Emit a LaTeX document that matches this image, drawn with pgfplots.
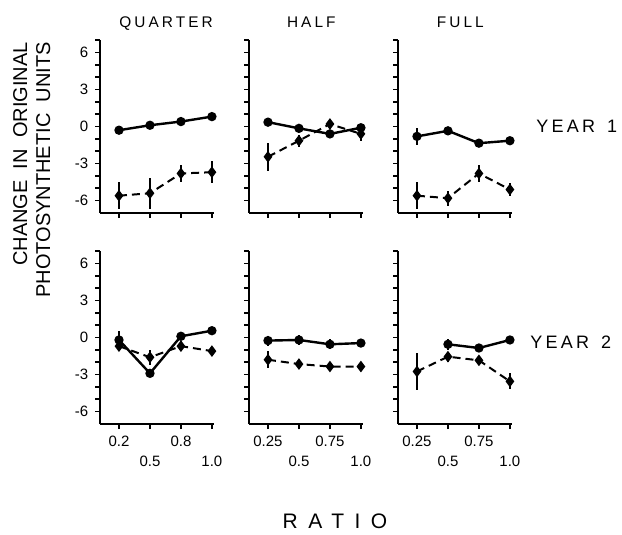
\documentclass[border=0pt]{standalone}
\usepackage{fontspec}
\setmainfont{Liberation Sans}
\newfontfamily\titlefont[LetterSpace=20]{Liberation Sans}
\newfontfamily\yearfont[LetterSpace=18]{Liberation Sans}
\newfontfamily\ratiofont[LetterSpace=50]{Liberation Sans}
\usepackage{pgfplots}
\pgfplotsset{compat=1.18}

\pgfplotsset{
  panel/.style={
    scale only axis, width=57pt, height=86.5pt, anchor=south west,
    xmin=0.1, xmax=1.02, ymin=-7, ymax=7,
    axis lines*=left, axis line style={line width=1pt, -},
    clip=false,
    ytick={-6,-3,0,3,6}, minor ytick={-5,-4,-2,-1,1,2,4,5,7},
    yticklabels={},
    xtick={0.25,0.75}, xticklabels={},
    extra x ticks={0.5,1.0}, extra x tick labels={},
    extra x tick style={tick label style={yshift=-10pt}},
    tick align=outside, major tick length=2.5pt, minor tick length=2.5pt,
    every tick/.style={black, line width=0.8pt},
    tick label style={font=\fontsize{7.5}{8}\selectfont},
  },
  solidser/.style={black, line width=1.2pt, mark=*, mark size=1.7pt,
    error bars/.cd, y dir=both, y explicit, error mark=none,
    error bar style={line width=0.8pt, solid}},
  dashser/.style={black, line width=1pt, dash pattern=on 4pt off 2.5pt,
    mark=diamond*, mark size=2.1pt, mark options={solid},
    error bars/.cd, y dir=both, y explicit, error mark=none,
    error bar style={line width=0.8pt, solid}},
}

% x y err
\pgfplotstableread[row sep=\\]{x y e\\ 0.25 -0.3 0\\ 0.5 0.1 0\\ 0.75 0.4 0\\ 1.0 0.8 0\\}\qsa
\pgfplotstableread[row sep=\\]{x y e\\ 0.25 -5.6 1.1\\ 0.5 -5.4 1.25\\ 0.75 -3.8 0.7\\ 1.0 -3.7 0.9\\}\qda
\pgfplotstableread[row sep=\\]{x y e\\ 0.25 0.35 0\\ 0.5 -0.15 0\\ 0.75 -0.6 0\\ 1.0 -0.1 0\\}\hsa
\pgfplotstableread[row sep=\\]{x y e\\ 0.25 -2.45 1.15\\ 0.5 -1.15 0.5\\ 0.75 0.2 0.2\\ 1.0 -0.6 0.55\\}\hda
\pgfplotstableread[row sep=\\]{x y e\\ 0.25 -0.8 0.7\\ 0.5 -0.35 0\\ 0.75 -1.35 0.3\\ 1.0 -1.15 0\\}\fsa
\pgfplotstableread[row sep=\\]{x y e\\ 0.25 -5.6 1.1\\ 0.5 -5.8 0.6\\ 0.75 -3.8 0.7\\ 1.0 -5.1 0.5\\}\fda
\pgfplotstableread[row sep=\\]{x y e\\ 0.25 -0.2 0.7\\ 0.5 -2.9 0\\ 0.75 0.1 0.3\\ 1.0 0.55 0\\}\qsb
\pgfplotstableread[row sep=\\]{x y e\\ 0.25 -0.7 0.4\\ 0.5 -1.6 0.6\\ 0.75 -0.7 0.4\\ 1.0 -1.1 0.35\\}\qdb
\pgfplotstableread[row sep=\\]{x y e\\ 0.25 -0.25 0.4\\ 0.5 -0.2 0.4\\ 0.75 -0.55 0.4\\ 1.0 -0.45 0\\}\hsb
\pgfplotstableread[row sep=\\]{x y e\\ 0.25 -1.8 0.7\\ 0.5 -2.15 0.4\\ 0.75 -2.35 0.4\\ 1.0 -2.35 0.3\\}\hdb
\pgfplotstableread[row sep=\\]{x y e\\ 0.5 -0.55 0.45\\ 0.75 -0.85 0\\ 1.0 -0.2 0\\}\fsb
\pgfplotstableread[row sep=\\]{x y e\\ 0.25 -2.75 1.5\\ 0.5 -1.55 0.4\\ 0.75 -1.85 0.35\\ 1.0 -3.55 0.65\\}\fdb

\begin{document}
\begin{tikzpicture}
\useasboundingbox (0,0) rectangle (311pt,-267.5pt);

% year 1
\begin{axis}[panel, at={(50.2pt,-106.5pt)}, yticklabels={-6,-3,0,3,6}]
\addplot[solidser] table[y error=e] {\qsa};
\addplot[dashser] table[y error=e] {\qda};
\node[anchor=base, font=\titlefont\fontsize{7.7}{8}\selectfont] at ([yshift=6.25pt]axis cs:0.63,7) {QUARTER};
\end{axis}
\begin{axis}[panel, at={(124.7pt,-106.5pt)}]
\addplot[solidser] table[y error=e] {\hsa};
\addplot[dashser] table[y error=e] {\hda};
\node[anchor=base, font=\titlefont\fontsize{7.7}{8}\selectfont] at ([yshift=6.25pt]axis cs:0.6,7) {HALF};
\end{axis}
\begin{axis}[panel, at={(199.2pt,-106.5pt)}]
\addplot[solidser] table[y error=e] {\fsa};
\addplot[dashser] table[y error=e] {\fda};
\node[anchor=base, font=\titlefont\fontsize{7.7}{8}\selectfont] at ([yshift=6.25pt]axis cs:0.6,7) {FULL};
\end{axis}

% year 2
\begin{axis}[panel, at={(50.2pt,-212pt)}, yticklabels={-6,-3,0,3,6},
  xticklabels={0.2,0.8}, extra x tick labels={0.5,1.0}]
\addplot[solidser] table[y error=e] {\qsb};
\addplot[dashser] table[y error=e] {\qdb};
\end{axis}
\begin{axis}[panel, at={(124.7pt,-212pt)},
  xticklabels={0.25,0.75}, extra x tick labels={0.5,1.0}]
\addplot[solidser] table[y error=e] {\hsb};
\addplot[dashser] table[y error=e] {\hdb};
\end{axis}
\begin{axis}[panel, at={(199.2pt,-212pt)},
  xticklabels={0.25,0.75}, extra x tick labels={0.5,1.0}]
\addplot[solidser] table[y error=e] {\fsb};
\addplot[dashser] table[y error=e] {\fdb};
\end{axis}

% labels
\node[rotate=90, anchor=base east, inner sep=0pt, font=\fontsize{10}{12}\selectfont] at (13.5pt,-21pt) {CHANGE\ \ IN\ \ ORIGINAL};
\node[rotate=90, anchor=base east, inner sep=0pt, font=\fontsize{10}{12}\selectfont] at (25pt,-21pt) {PHOTOSYNTHETIC\ \ UNITS};
\node[anchor=base west, inner sep=0pt, font=\yearfont\fontsize{9}{10}\selectfont] at (268pt,-66.5pt) {YEAR\hspace{6pt}1};
\node[anchor=base west, inner sep=0pt, font=\yearfont\fontsize{9}{10}\selectfont] at (265pt,-174pt) {YEAR\hspace{6pt}2};
\node[anchor=base, inner sep=0pt, font=\ratiofont\fontsize{10.5}{12}\selectfont] at (167.5pt,-264pt) {RATIO};
\end{tikzpicture}
\end{document}
